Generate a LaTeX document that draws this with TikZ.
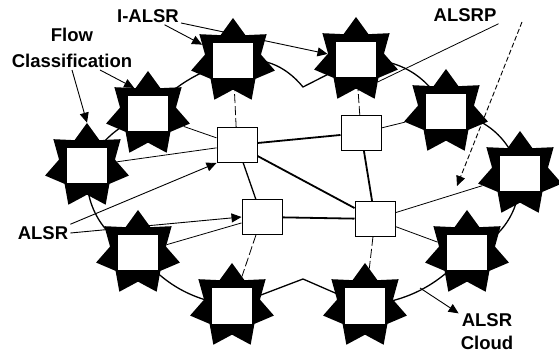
\documentclass[tikz,border=0pt]{standalone}
\usepackage{fontspec}
\setmainfont{Liberation Sans}
\usetikzlibrary{arrows.meta,positioning,shapes.geometric,backgrounds}

\begin{document}
\begin{tikzpicture}[
        x=1pt, y=1pt,
        font=\fontsize{18.5}{24}\selectfont\bfseries,
        host/.style={
            star,
            star points=7,
            star point ratio=1.5,
            minimum size=86pt,
            inner sep=0pt,
            fill=black
        },
        hostbox/.style={
            fill=white,
            minimum width=40pt,
            minimum height=35pt,
            inner sep=0pt
        },
        router/.style={
            draw,
            fill=white,
            line width=1pt,
            minimum width=40pt,
            minimum height=35pt,
            inner sep=0pt
        },
        tag/.style={align=center, inner sep=2pt},
        arrow/.style={-{Triangle[length=10pt,width=9pt]}, line width=0.9pt},
        link/.style={line width=0.8pt},
        trunk/.style={line width=1.8pt},
        spur/.style={line width=0.8pt, dash pattern=on 9pt off 3pt},
        cloudline/.style={line width=1.3pt}
    ]
        \useasboundingbox (0,0) rectangle (559,356);

        % hosts round the cloud
        \foreach \n/\x/\y in {1/233/295, 2/356/296, 3/148/242, 4/87/190, 5/446/244,
                              6/520/182, 7/138/103, 8/232/50, 9/365/50, 10/467/103} {
            \node[host] (s\n) at (\x,\y) {};
            \node[hostbox] (h\n) at (s\n) {};
        }

        % routers inside
        \node[router] (r1) at (237,211) {};
        \node[router] (r2) at (361,223) {};
        \node[router] (r3) at (262,139) {};
        \node[router] (r4) at (375,137) {};

        \coordinate (dip) at (303,269);
        \coordinate (peak) at (303,77);
        \coordinate (cloudpt) at (420,68);

        \begin{scope}[on background layer]
            \draw[cloudline] (s4.center) to[bend left=20] (s3.center)
                to[bend left=15] (s1.center) to[bend left=30] (dip) -- (s2.center)
                to[bend left=35] (s5.center) to[bend left=35] (s6.center)
                to[bend left=35] (s10.center) to[bend left=20] (s9.center)
                -- (peak) -- (s8.center) to[bend left=20] (s7.center)
                to[bend left=35] (s4.center);
        \end{scope}

        % links
        \foreach \a/\b in {r1/r2, r1/r4, r2/r4, r3/r4} {
            \draw[trunk] (\a) -- (\b);
        }
        \draw[line width=1.3pt] (r1) -- (r3);
        \foreach \a/\b in {r1/s3, r1/s4, r2/s5, r3/s7, r4/s6, r4/s10} {
            \draw[link] (\a) -- (\b);
        }
        \foreach \a/\b in {r1/s1, r2/s2, r3/s8, r4/s9} {
            \draw[spur] (\a) -- (\b);
        }

        % labels
        \node[tag, font=\fontsize{18.5}{26}\selectfont\bfseries] (flow) at (72,308) {Flow\\Classification};
        \node[tag] (ialsr) at (148,340) {I-ALSR};
        \node[tag] (alsrp) at (465,341) {ALSRP};
        \node[tag] (alsr) at (43,123) {ALSR};
        \node[tag, font=\fontsize{18.5}{23}\selectfont\bfseries] (cloudlbl) at (487,24) {ALSR\\Cloud};

        \coordinate (ptail) at (522,334);
        \coordinate (phead) at (457,170);

        \draw[arrow] (ialsr) -- (s1);
        \draw[arrow] (ialsr) -- (s2);
        \draw[arrow] ([xshift=28pt]flow.south) -- (s3.118);
        \draw[arrow] (flow.south) -- (s4.90);
        \draw[arrow] (alsr.north east) -- (r1.south west);
        \draw[arrow] (alsr.east) -- (r3.west);
        \draw[link] (alsrp.south east) -- (s2.-45);
        \draw[arrow, dash pattern=on 5pt off 2.5pt] (ptail) -- (phead);
        \draw[arrow] (cloudpt) -- (cloudlbl);
\end{tikzpicture}
\end{document}
